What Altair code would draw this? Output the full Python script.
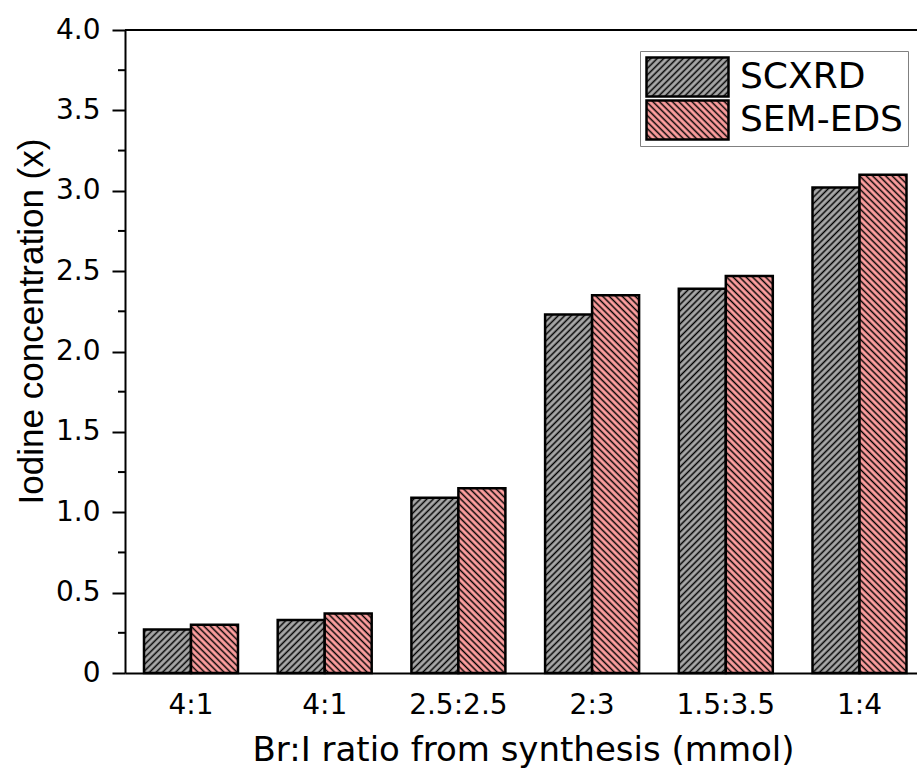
import json
import altair as alt
import pandas as pd

# ---------------- data ----------------
ratios = ["4:1", "4:1", "2.5:2.5", "2:3", "1.5:3.5", "1:4"]
series_names = ["SCXRD", "SEM-EDS"]
scxrd = [0.27, 0.33, 1.09, 2.23, 2.39, 3.02]
semeds = [0.30, 0.37, 1.15, 2.35, 2.47, 3.10]
y_major = [0, 0.5, 1.0, 1.5, 2.0, 2.5, 3.0, 3.5, 4.0]
y_minor = [0.25, 0.75, 1.25, 1.75, 2.25, 2.75, 3.25, 3.75]
y_max = [4.0]

rows = []
for i, (a, b) in enumerate(zip(scxrd, semeds)):
    rows.append({"idx": i, "series": series_names[0], "value": a})
    rows.append({"idx": i, "series": series_names[1], "value": b})
df = pd.DataFrame(rows)
df_minor = pd.DataFrame({"value": y_minor})
df_top = pd.DataFrame({"value": y_max})

WIDE = "DejaVu Sans, Verdana, sans-serif"
FONT = "Liberation Sans, Arial, sans-serif"
GRAY = "#A9A9A9"
PINK = "#FFA0A0"

fills = ["url(#hatchScxrd) " + GRAY, "url(#hatchSem) " + PINK]

yscale = alt.Scale(domain=[0, 4], nice=False, zero=True)
yaxis = alt.Axis(
    values=y_major,
    labelExpr="datum.value == 0 ? '0' : format(datum.value, '.1f')",
    tickSize=13,
    tickWidth=2,
    tickColor="black",
    domainColor="black",
    domainWidth=2,
    labelFontSize=28,
    labelFont=WIDE,
    labelColor="black",
    labelPadding=12,
    title="Iodine concentration (x)",
    titleFont=FONT,
    titleFontSize=35,
    titleFontWeight="normal",
    titleColor="black",
    titleX=-83,
    titleY=291,
    titleBaseline="alphabetic",
    grid=False,
)

bars = alt.Chart(df).mark_bar(stroke="black", strokeWidth=2.5).encode(
    x=alt.X(
        "idx:O",
        scale=alt.Scale(paddingInner=0.297, paddingOuter=0.1103, align=0.644),
        axis=alt.Axis(
            labelExpr=json.dumps(ratios) + "[datum.value]",
            labelAngle=0,
            ticks=False,
            tickSize=0,
            labelPadding=18,
            labelFontSize=28,
            labelFont=WIDE,
            labelColor="black",
            domainColor="black",
            domainWidth=2,
            title="Br:I ratio from synthesis (mmol)",
            titleFont=WIDE,
            titleFontSize=34,
            titleFontWeight="normal",
            titleColor="black",
            titleX=398,
            titleY=87.5,
            titleBaseline="alphabetic",
            grid=False,
        ),
    ),
    xOffset=alt.XOffset("series:N", sort=series_names,
                        scale=alt.Scale(paddingInner=0, paddingOuter=0)),
    y=alt.Y("value:Q", scale=yscale, axis=yaxis),
    fill=alt.Fill(
        "series:N",
        scale=alt.Scale(domain=series_names, range=fills),
        legend=alt.Legend(
            title=None,
            orient="none",
            legendX=515,
            legendY=21,
            symbolType="M-1,-0.475H1V0.475H-1Z",
            symbolSize=6724,
            clipHeight=42,
            symbolStrokeColor="black",
            symbolStrokeWidth=2.5,
            symbolOffset=0,
            labelFont=WIDE,
            labelFontSize=36,
            labelColor="black",
            labelOffset=10,
            labelLimit=400,
            rowPadding=1,
            padding=5,
            strokeColor="#808080",
            fillColor="white",
        ),
    ),
)

minor = alt.Chart(df_minor).mark_rule(color="black", strokeWidth=2).encode(
    y=alt.Y("value:Q", scale=yscale, axis=yaxis),
    x=alt.value(-7),
    x2=alt.value(0),
)

top = alt.Chart(df_top).mark_rule(color="black", strokeWidth=2).encode(
    y=alt.Y("value:Q", scale=yscale, axis=yaxis),
)

chart = alt.layer(bars, minor, top).properties(
    width=792,
    height=643,
    autosize=alt.AutoSizeParams(type="none"),
    padding={"left": 125, "top": 30, "right": 0, "bottom": 98},
    background="white",
).configure_view(stroke=None)

DEFS = (
    '<svg width="0" height="0" style="position:absolute;left:0;top:0" aria-hidden="true">'
    "<defs>"
    '<pattern id="hatchScxrd" patternUnits="userSpaceOnUse" width="4.6" height="4.6" '
    'patternTransform="rotate(45)">'
    '<rect x="0" y="0" width="4.6" height="4.6" fill="' + GRAY + '"/>'
    '<line x1="2.3" y1="-1" x2="2.3" y2="5.6" stroke="#000" stroke-width="1.5"/>'
    "</pattern>"
    '<pattern id="hatchSem" patternUnits="userSpaceOnUse" width="4.6" height="4.6" '
    'patternTransform="rotate(-45)">'
    '<rect x="0" y="0" width="4.6" height="4.6" fill="' + PINK + '"/>'
    '<line x1="2.3" y1="-1" x2="2.3" y2="5.6" stroke="#000" stroke-width="1.5"/>'
    "</pattern>"
    "</defs></svg>"
)

tmpl = None
try:
    import jinja2
    from altair.utils.html import TEMPLATES
    _base = TEMPLATES["standard"]
    tmpl = jinja2.Template("x")
    tmpl.render = lambda *a, **kw: _base.render(*a, **kw).replace("<body>", "<body>\n" + DEFS, 1)
except Exception:
    tmpl = None

try:
    if tmpl is None:
        raise RuntimeError
    chart.save("out.html", embed_options={"renderer": "svg", "actions": False}, template=tmpl)
except Exception:
    chart.save("out.html", embed_options={"renderer": "svg", "actions": False})
